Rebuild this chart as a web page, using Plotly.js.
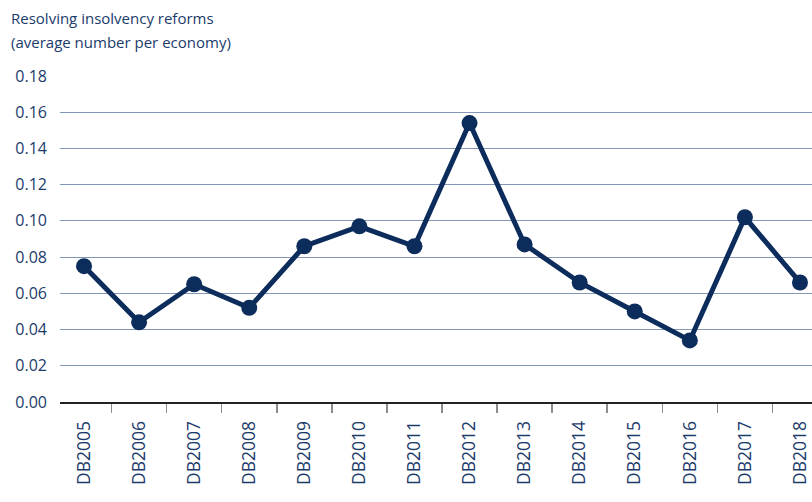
<!DOCTYPE html>
<html>
<head>
<meta charset="utf-8">
<script src="https://cdn.plot.ly/plotly-3.0.1.min.js"></script>
<style>
  body { margin: 0; background: #fff; }
  #chart { width: 812px; height: 502px; }
</style>
</head>
<body>
<div id="chart"></div>
<script>
// Resolving insolvency reforms, average number per economy
const years = ['DB2005', 'DB2006', 'DB2007', 'DB2008', 'DB2009', 'DB2010', 'DB2011',
               'DB2012', 'DB2013', 'DB2014', 'DB2015', 'DB2016', 'DB2017', 'DB2018'];
const reforms = [0.075, 0.044, 0.065, 0.052, 0.086, 0.097, 0.086,
                 0.154, 0.087, 0.066, 0.050, 0.034, 0.102, 0.066];
const yTicks = [0, 0.02, 0.04, 0.06, 0.08, 0.10, 0.12, 0.14, 0.16, 0.18];
const titleLines = ['Resolving insolvency reforms', '(average number per economy)'];

const navy = '#0c2c5c';
const textCol = '#1b3b6b';
const fontFam = '"Open Sans", "Noto Sans", sans-serif';

let trace = {
    x: years,
    y: reforms,
    mode: 'lines+markers',
    line: { color: navy, width: 5 },
    marker: { color: navy, size: 16 },
    hoverinfo: 'skip'
};

let layout = {
    width: 812,
    height: 502,
    margin: { l: 60, r: 0, t: 76, b: 100, pad: 0 },
    paper_bgcolor: '#fff',
    plot_bgcolor: '#fff',
    showlegend: false,
    font: { family: fontFam, color: textCol },
    annotations: titleLines.map((t, i) => ({
        text: t,
        font: { size: 15, color: textCol, family: fontFam },
        showarrow: false,
        xref: 'paper', yref: 'paper',
        x: 0, xshift: -51, xanchor: 'left',
        y: 1, yshift: 58 - 24 * i, yanchor: 'middle',
        align: 'left'
    })),
    xaxis: {
        type: 'category',
        range: [-0.436, 13.218],
        tickson: 'boundaries',
        ticks: 'outside',
        ticklen: 9,
        tickwidth: 1.5,
        tickcolor: '#8c8c8c',
        tickangle: -90,
        tickfont: { size: 17.5, color: textCol },
        ticklabelstandoff: 10,
        showgrid: false,
        zeroline: false,
        showline: true,
        linecolor: '#222',
        linewidth: 2,
        fixedrange: true
    },
    yaxis: {
        range: [0, 0.18],
        tickmode: 'array',
        tickvals: yTicks,
        ticktext: yTicks.map(v => v.toFixed(2)),
        tickfont: { size: 16, color: textCol },
        ticklabelstandoff: 12,
        showgrid: true,
        gridcolor: '#8597b8',
        gridwidth: 1,
        zeroline: false,
        showline: false,
        ticks: '',
        fixedrange: true
    }
};

Plotly.newPlot(document.querySelector('#chart'), [trace], layout, { displayModeBar: false, staticPlot: true });
</script>
</body>
</html>
